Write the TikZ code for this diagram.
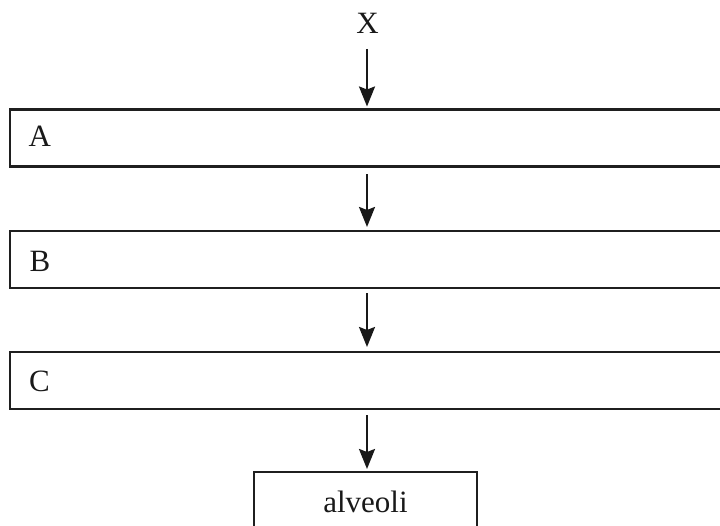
\documentclass[tikz,border=0pt]{standalone}
\usepackage{fontspec}
\setmainfont{Liberation Serif}
\usetikzlibrary{arrows.meta}
\begin{document}
\begin{tikzpicture}[x=1pt,y=1pt,
  box/.style={draw=black!88, line width=2.3pt, rectangle, inner sep=0pt},
  lbl/.style={font=\fontsize{31}{36}\selectfont, text=black!90, inner sep=0pt},
  arr/.style={draw=black!90, line width=2.2pt, -{Stealth[width=16pt,length=20pt,inset=3pt]}}]
\useasboundingbox (0,0) rectangle (720,526);
\clip (0,0) rectangle (720,526);
% X label
\node[lbl, anchor=base] (X) at (367.5,492) {X};
\coordinate (xs) at (367,477);
% boxes
\node[box, minimum width=760pt, minimum height=57pt, anchor=north west] (A) at (9,417.5) {};
\node[box, minimum width=760pt, minimum height=57pt, anchor=north west] (B) at (9,296) {};
\node[box, minimum width=760pt, minimum height=57pt, anchor=north west] (C) at (9,175) {};
\node[box, minimum width=223pt, minimum height=70pt, anchor=north] (D) at (365.5,55) {};
% labels
\node[lbl, anchor=base west] (At) at (28.5,379) {A};
\node[lbl, anchor=base west] (Bt) at (29.5,254) {B};
\node[lbl, anchor=base west] (Ct) at (29,134) {C};
\node[lbl, anchor=base] (Dt) at (365.5,13) {alveoli};
% arrows
\draw[arr] (xs) -- ([yshift=2pt]xs |- A.north);
\draw[arr] ([yshift=-6.5pt]A.south -| xs) -- ([yshift=3pt]B.north -| xs);
\draw[arr] ([yshift=-4pt]B.south -| xs) -- ([yshift=4pt]C.north -| xs);
\draw[arr] ([yshift=-5pt]C.south -| xs) -- ([yshift=2pt]D.north -| xs);
\end{tikzpicture}
\end{document}
